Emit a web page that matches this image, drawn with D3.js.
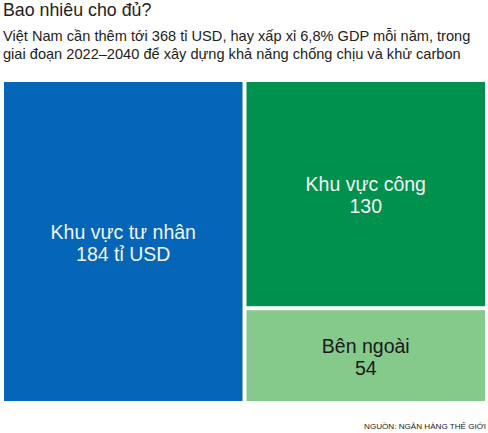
<!DOCTYPE html>
<html><head><meta charset="utf-8">
<script src="https://cdn.jsdelivr.net/npm/d3@7"></script>
<style>
html,body{margin:0;padding:0;background:#fff;}
svg{display:block;font-family:"Liberation Sans",Arial,sans-serif;}
</style></head>
<body>
<svg id="c" width="488" height="433"></svg>
<script>
const categories = ["Khu vực tư nhân", "Khu vực công", "Bên ngoài"];
const valueLabels = ["184 tỉ USD", "130", "54"];
const values = [184, 130, 54];
const colors = ["#0565b6", "#00914f", "#85c98b"];
const textColors = ["#f4f4f4", "#f4f4f4", "#1a1a1a"];
const title = "Bao nhiêu cho đủ?";
const subtitle = ["Việt Nam cần thêm tới 368 tỉ USD, hay xấp xỉ 6,8% GDP mỗi năm, trong",
                  "giai đoạn 2022–2040 để xây dựng khả năng chống chịu và khử carbon"];
const source = "NGUỒN: NGÂN HÀNG THẾ GIỚI";

const svg = d3.select("#c");
const mLeft = 4, mTop = 82, W = 481, H = 319;

svg.append("text").attr("x", 3).attr("y", 16).attr("font-size", 17.8).attr("fill", "#222").text(title);
svg.selectAll(".sub").data(subtitle).join("text").attr("class","sub")
  .attr("x", 3).attr("y", (d,i) => 41 + i*18).attr("font-size", 14.6).attr("fill", "#222").text(d => d);

const data = categories.map((c,i) => ({name:c, label:valueLabels[i], value:values[i], color:colors[i], tc:textColors[i]}));
const root = d3.hierarchy({children:data}).sum(d => d.value || 0);
d3.treemap().tile(d3.treemapBinary).size([W, H]).paddingInner(4)(root);

const g = svg.append("g").attr("transform", `translate(${mLeft},${mTop})`);
const cells = g.selectAll("g").data(root.leaves()).join("g");
cells.append("rect")
  .attr("x", d => d.x0).attr("y", d => d.y0)
  .attr("width", d => d.x1 - d.x0).attr("height", d => d.y1 - d.y0)
  .attr("fill", d => d.data.color);
cells.append("text")
  .attr("x", d => (d.x0 + d.x1)/2).attr("y", d => (d.y0 + d.y1)/2 - 3)
  .attr("text-anchor", "middle").attr("font-size", 19.5).attr("fill", d => d.data.tc)
  .text(d => d.data.name);
cells.append("text")
  .attr("x", d => (d.x0 + d.x1)/2).attr("y", d => (d.y0 + d.y1)/2 + 19)
  .attr("text-anchor", "middle").attr("font-size", 19.5).attr("fill", d => d.data.tc)
  .text(d => d.data.label);

svg.append("text").attr("x", 486).attr("y", 429).attr("text-anchor", "end")
  .attr("font-size", 8.1).attr("fill", "#222").text(source);
</script>
</body></html>
